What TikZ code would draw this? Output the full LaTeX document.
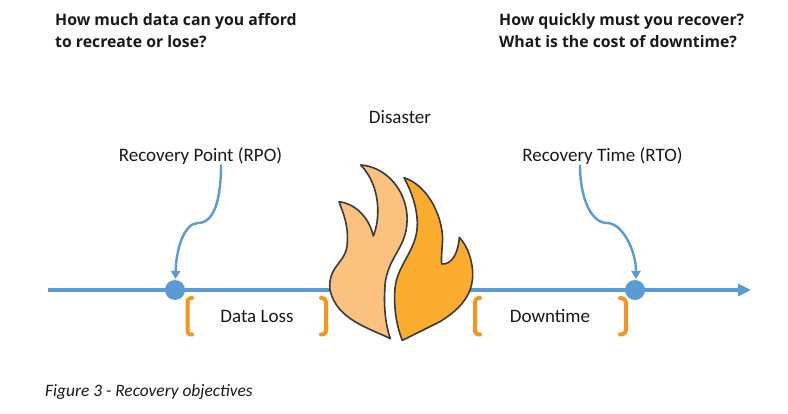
\documentclass[tikz,border=0pt]{standalone}
\usepackage{fontspec}
\setmainfont{Carlito}
\newfontfamily\headfont{Open Sans}
\usetikzlibrary{arrows.meta}
\definecolor{lineblue}{HTML}{5B9BD5}
\definecolor{bracketorange}{HTML}{F7941E}
\definecolor{flamelight}{HTML}{FBC17F}
\definecolor{flamedark}{HTML}{FBAB2E}
\definecolor{flameedge}{HTML}{3A3A3A}
\tikzset{
  headtext/.style={font=\headfont\bfseries\fontsize{15.8}{22}\selectfont,align=left,anchor=north west,inner sep=0pt,text=black!90},
  labeltext/.style={font=\fontsize{19}{23}\selectfont,inner sep=0pt,text=black!90},
  axisline/.style={draw=lineblue,line width=3.4pt},
  pointdot/.style={circle,fill=lineblue,minimum size=20pt,inner sep=0pt},
  callout/.style={draw=lineblue,line width=2.4pt,-{Triangle[length=8pt,width=9pt]}},
  bracketline/.style={draw=bracketorange,line width=4pt,line cap=round,line join=round},
  flame/.style={draw=flameedge,line width=1.6pt,line join=round}
}
\begin{document}
\begin{tikzpicture}[x=1pt,y=-1pt]
\useasboundingbox (0,0) rectangle (788,414);
\node[headtext] (q1) at (55,13) {How much data can you afford\\to recreate or lose?};
\node[headtext] (q2) at (499,13) {How quickly must you recover?\\What is the cost of downtime?};
\node[labeltext] (disaster) at (400,117.5) {Disaster};
\node[labeltext] (rpo) at (200.5,156) {Recovery Point (RPO)};
\node[labeltext] (rto) at (602.5,156) {Recovery Time (RTO)};
\node[labeltext] (loss) at (257,316) {Data Loss};
\node[labeltext] (down) at (550,316) {Downtime};
\node[font=\itshape\fontsize{17.4}{20}\selectfont,anchor=west,inner sep=0pt,text=black!90] (cap) at (45,391.5) {Figure 3 - Recovery objectives};
% axis
\coordinate (axisstart) at (48,290);
\node[pointdot] (p1) at (175,290) {};
\node[pointdot] (p2) at (635,290) {};
\coordinate (axisend) at (751,290);
\draw[axisline,-{Triangle[length=13pt,width=12pt]}] (axisstart) -- (axisend);
% callouts
\draw[callout] (rpo.south -| 221,167) .. controls (221,200) and (214,223) .. (198,223) .. controls (184,223) and (176,250) .. (175.5,279);
\draw[callout] (rto.south -| 580,167) .. controls (580,200) and (592,223) .. (607,223) .. controls (622,223) and (636,250) .. (636,279);
% brackets
\draw[bracketline] (192,298) .. controls (188,298) and (187.5,300) .. (187.5,304) -- (187.5,329) .. controls (187.5,333) and (188,334.5) .. (192,334.5);
\draw[bracketline] (321,298) .. controls (325,298) and (326,300) .. (326,304) -- (326,329) .. controls (326,333) and (325,334.5) .. (321,334.5);
\draw[bracketline] (480,298) .. controls (476,298) and (475,300) .. (475,304) -- (475,329) .. controls (475,333) and (476,334.5) .. (480,334.5);
\draw[bracketline] (620,298) .. controls (624,298) and (626,300) .. (626,304) -- (626,329) .. controls (626,333) and (624,334.5) .. (620,334.5);
% flames
\begin{scope}[shift={(310,150)},x=0.3333pt,y=-0.3333pt]
\fill[white] (240,80) -- (330,120) -- (300,400) -- (282,575) -- (245,570) -- (220,370) -- cycle;
\draw[flame,fill=flamelight] (152,45)
  .. controls (225,50) and (285,115) .. (291,195)
  .. controls (296,290) and (240,310) .. (226,395)
  .. controls (220,460) and (225,520) .. (241,566)
  .. controls (180,535) and (80,510) .. (60,420)
  .. controls (52,345) and (112,340) .. (112,275)
  .. controls (115,225) and (100,190) .. (87,155)
  .. controls (130,160) and (175,195) .. (190,258)
  .. controls (210,210) and (215,110) .. (152,45) -- cycle;
\draw[flame,fill=flamedark] (282,83)
  .. controls (350,105) and (395,190) .. (398,265)
  .. controls (397,295) and (393,320) .. (395,342)
  .. controls (425,345) and (445,310) .. (448,262)
  .. controls (475,290) and (490,340) .. (488,380)
  .. controls (485,450) and (430,490) .. (390,515)
  .. controls (350,535) and (310,555) .. (277,571)
  .. controls (260,530) and (250,470) .. (255,415)
  .. controls (262,340) and (325,300) .. (322,215)
  .. controls (320,170) and (305,125) .. (282,83) -- cycle;
\end{scope}
\end{tikzpicture}
\end{document}
